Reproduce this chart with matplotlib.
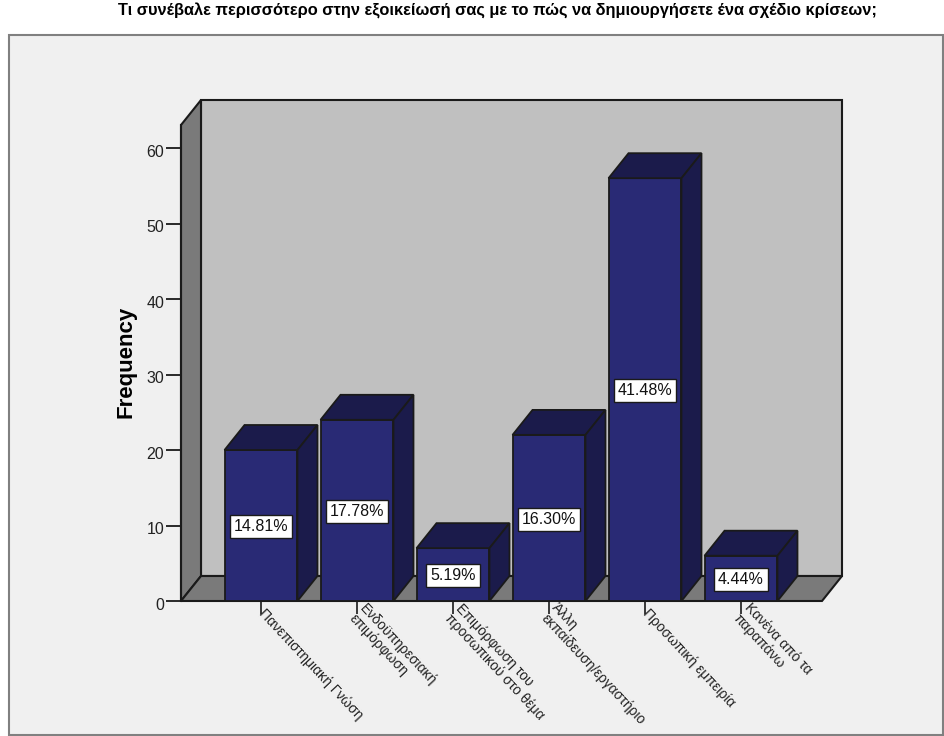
import matplotlib
matplotlib.use('Agg')
import matplotlib.pyplot as plt
from matplotlib.patches import Polygon, Rectangle
from matplotlib.transforms import ScaledTranslation

plt.rcParams['font.family'] = ['Liberation Sans', 'DejaVu Sans']

title = 'Τι συνέβαλε περισσότερο στην εξοικείωσή σας με το πώς να δημιουργήσετε ένα σχέδιο κρίσεων;'
categories = ['Πανεπιστημιακή Γνώση', 'Ενδοϋπηρεσιακή\nεπιμόρφωση', 'Επιμόρφωση του\nπροσωπικού στο θέμα',
              'Άλλη\nεκπαίδευση/εργαστήριο', 'Προσωπική εμπειρία', 'Κανένα από τα\nπαραπάνω']
freq = [20, 24, 7, 22, 56, 6]
pct = ['14.81%', '17.78%', '5.19%', '16.30%', '41.48%', '4.44%']
yticks = [0, 10, 20, 30, 40, 50, 60]

W, H = 944, 736
fig = plt.figure(figsize=(W / 100, H / 100), dpi=100, facecolor='white')

# grey chart frame
fig.add_artist(Rectangle((9 / W, 1 / H), 934 / W, 700 / H, transform=fig.transFigure,
                         facecolor='#f0f0f0', edgecolor='#808080', linewidth=1.5, zorder=-1))
fig.text(497 / W, 1 - 11 / H, title, ha='center', va='center', fontsize=11.8, fontweight='bold')

ax = fig.add_axes([181 / W, 1 - 601 / H, 662 / W, 501 / H])
ax.set_xlim(-80 / 96, 582 / 96)
ax.set_ylim(0, 501 / 7.55)
ax.patch.set_visible(False)

# depth of the fake 3d box, in data units
dx = 20 / 96
dy = 25 / 7.55
x0 = ax.get_xlim()[0]
x1 = x0 + 641 / 96
top = 60 + 23 / 7.55
edge = '#1a1a1a'

ax.add_patch(Polygon([(x0 + dx, dy), (x1 + dx, dy), (x1 + dx, top + dy), (x0 + dx, top + dy)],
                     facecolor='#c0c0c0', edgecolor=edge, linewidth=1.5, clip_on=False, zorder=1))
ax.add_patch(Polygon([(x0, 0), (x0 + dx, dy), (x0 + dx, top + dy), (x0, top)],
                     facecolor='#7a7a7a', edgecolor=edge, linewidth=1.5, clip_on=False, zorder=1))
ax.add_patch(Polygon([(x0, 0), (x1, 0), (x1 + dx, dy), (x0 + dx, dy)],
                     facecolor='#7a7a7a', edgecolor=edge, linewidth=1.5, clip_on=False, zorder=1))

bar_w = 0.76
for i, v in enumerate(freq):
    l = i - bar_w / 2
    r = i + bar_w / 2
    ax.bar(i, v, width=bar_w, color='#292a75', edgecolor=edge, linewidth=1.3, zorder=3)
    ax.add_patch(Polygon([(l, v), (r, v), (r + dx, v + dy), (l + dx, v + dy)],
                         facecolor='#1b1b4b', edgecolor=edge, linewidth=1.3, zorder=3))
    ax.add_patch(Polygon([(r, 0), (r + dx, dy), (r + dx, v + dy), (r, v)],
                         facecolor='#1b1b4b', edgecolor=edge, linewidth=1.3, zorder=3))
    ax.text(i, v / 2 - 0.15, pct[i], ha='center', va='center', fontsize=11.5, color='#111111', zorder=5,
            bbox=dict(boxstyle='square,pad=0.25', facecolor='white', edgecolor=edge, linewidth=1))

for s in ['top', 'right', 'bottom']:
    ax.spines[s].set_visible(False)
ax.spines['left'].set_bounds(0, top)
ax.spines['left'].set_linewidth(1.5)
ax.spines['left'].set_color(edge)
ax.spines['left'].set_zorder(2)

ax.set_yticks(yticks)
ax.tick_params(axis='y', length=11, width=1.3, color=edge, labelsize=11.5, labelcolor='#222222', pad=1)
# tick numbers sit a little under their ticks in the original
for lab in ax.get_yticklabels():
    lab.set_transform(lab.get_transform() + ScaledTranslation(0, -2 / 72, fig.dpi_scale_trans))

ax.set_xticks(range(len(categories)))
ax.set_xticklabels(categories, rotation=-47, rotation_mode='anchor', ha='left', va='center',
                   fontsize=10, color='#222222', linespacing=1.05)
ax.tick_params(axis='x', length=9, width=1.2, color=edge, pad=-2)
ax.set_ylabel('Frequency', fontsize=16, fontweight='bold')
ax.yaxis.set_label_coords(-44 / 662, 0.477)

fig.savefig('out.png', dpi=100)
